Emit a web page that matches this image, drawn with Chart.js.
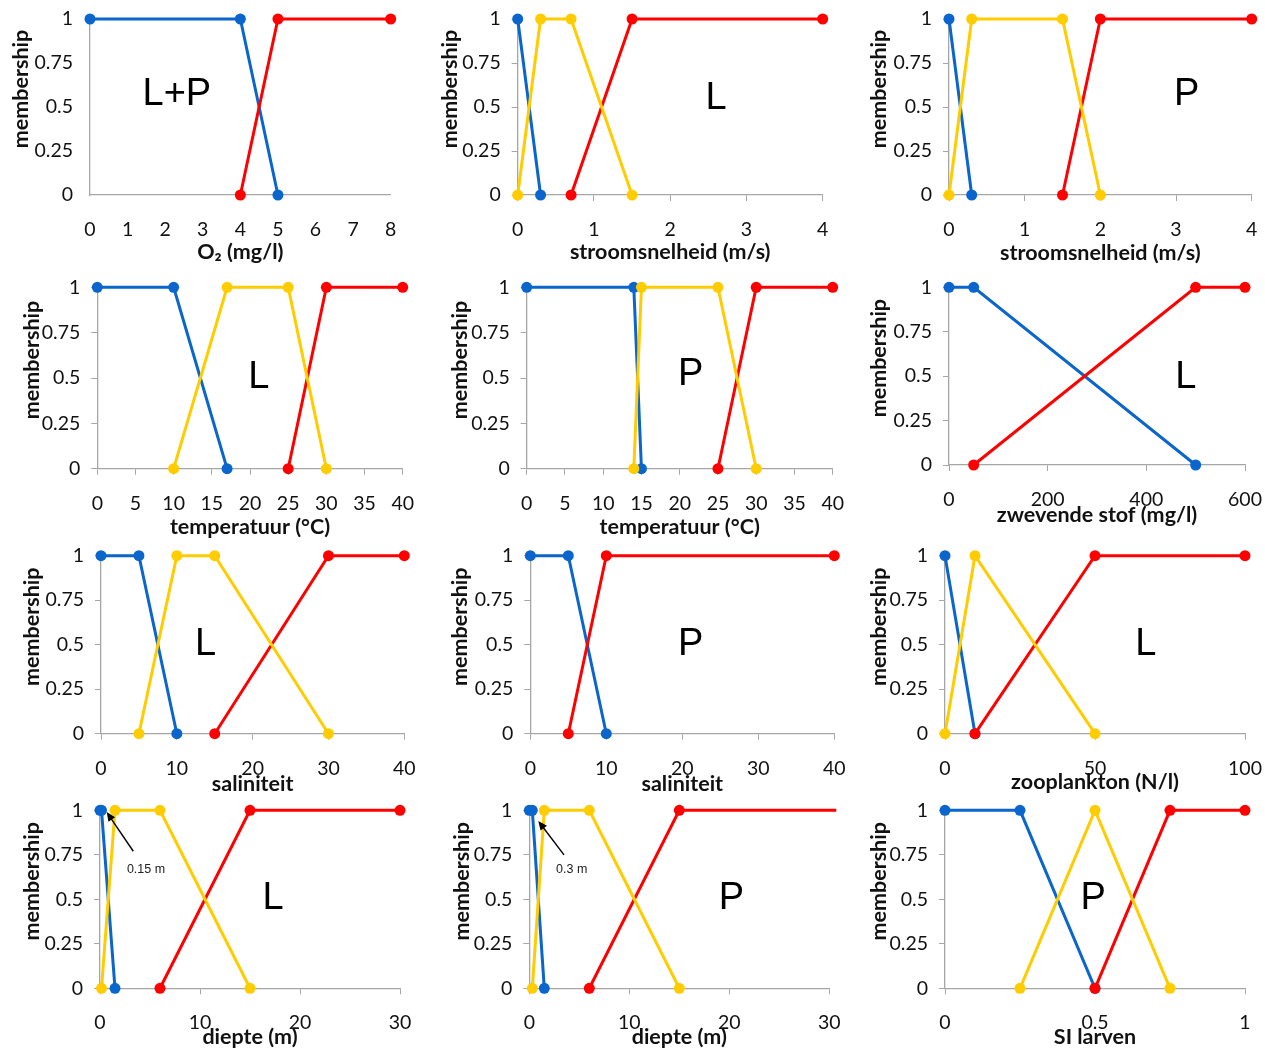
<!DOCTYPE html>
<html><head><meta charset="utf-8">
<script src="https://cdn.jsdelivr.net/npm/chart.js@4.4.1/dist/chart.umd.min.js"></script>
<style>
html,body{margin:0;padding:0;background:#fff;width:1265px;height:1050px;overflow:hidden;position:relative}
canvas{position:absolute}
</style></head><body>
<script>
// ---------- DATA ----------
const yTicks = [0, 0.25, 0.5, 0.75, 1];
const yTickLabels = ['0', '0.25', '0.5', '0.75', '1'];

// 1  O2 (L+P)
const o2Low  = [[0,1],[4,1],[5,0]];
const o2High = [[4,0],[5,1],[8,1]];
const o2Ticks = [0,1,2,3,4,5,6,7,8];

// 2  stroomsnelheid (L)
const flowLLow  = [[0,1],[0.3,0]];
const flowLMid  = [[0,0],[0.3,1],[0.7,1],[1.5,0]];
const flowLHigh = [[0.7,0],[1.5,1],[4,1]];
const flowTicks = [0,1,2,3,4];

// 3  stroomsnelheid (P)
const flowPLow  = [[0,1],[0.3,0]];
const flowPMid  = [[0,0],[0.3,1],[1.5,1],[2,0]];
const flowPHigh = [[1.5,0],[2,1],[4,1]];

// 4  temperatuur (L)
const tempLLow  = [[0,1],[10,1],[17,0]];
const tempLMid  = [[10,0],[17,1],[25,1],[30,0]];
const tempLHigh = [[25,0],[30,1],[40,1]];
const tempTicks = [0,5,10,15,20,25,30,35,40];

// 5  temperatuur (P)
const tempPLow  = [[0,1],[14,1],[15,0]];
const tempPMid  = [[14,0],[15,1],[25,1],[30,0]];
const tempPHigh = [[25,0],[30,1],[40,1]];

// 6  zwevende stof (L)
const tssLLow  = [[0,1],[50,1],[500,0]];
const tssLHigh = [[50,0],[500,1],[600,1]];
const tssTicks = [0,200,400,600];

// 7  saliniteit (L)
const salLLow  = [[0,1],[5,1],[10,0]];
const salLMid  = [[5,0],[10,1],[15,1],[30,0]];
const salLHigh = [[15,0],[30,1],[40,1]];
const salTicks = [0,10,20,30,40];

// 8  saliniteit (P)
const salPLow  = [[0,1],[5,1],[10,0]];
const salPHigh = [[5,0],[10,1],[40,1]];

// 9  zooplankton (L)
const zooLLow  = [[0,1],[10,0]];
const zooLMid  = [[0,0],[10,1],[50,0]];
const zooLHigh = [[10,0],[50,1],[100,1]];
const zooTicks = [0,50,100];

// 10 diepte (L)
const depthLLow  = [[0,1],[0.15,1],[1.5,0]];
const depthLMid  = [[0.15,0],[1.5,1],[6,1],[15,0]];
const depthLHigh = [[6,0],[15,1],[30,1]];
const depthTicks = [0,10,20,30];

// 11 diepte (P)
const depthPLow  = [[0,1],[0.3,1],[1.5,0]];
const depthPMid  = [[0.3,0],[1.5,1],[6,1],[15,0]];
const depthPHigh = [[6,0],[15,1],[40,1]];

// 12 SI larven (P)
const siPLow  = [[0,1],[0.25,1],[0.5,0]];
const siPMid  = [[0.25,0],[0.5,1],[0.75,0]];
const siPHigh = [[0.5,0],[0.75,1],[1,1]];
const siTicks = [0,0.5,1];

// ---------- STYLE ----------
const BLUE = '#0A66CC', YELLOW = '#FFCC00', RED = '#FF0000';
const AXIS = '#A6A6A6';
const FONT = 'Lato';
const TITLE_SIZE = 21.5, TITLE_LH = 1.2;
const HALF_LH = TITLE_SIZE * TITLE_LH / 2;

const annot = {
  id: 'annot',
  afterDraw(chart, args, o) {
    const {ctx} = chart; const sx = chart.scales.x, sy = chart.scales.y;
    if (o.letter) {
      ctx.save();
      ctx.font = '38px "Liberation Sans", Arial, sans-serif';
      ctx.fillStyle = '#000'; ctx.textAlign = 'center'; ctx.textBaseline = 'middle';
      ctx.fillText(o.letter.text, sx.getPixelForValue(o.letter.x), sy.getPixelForValue(o.letter.y));
      ctx.restore();
    }
    if (o.arrow) {
      const x1 = sx.getPixelForValue(o.arrow.from[0]), y1 = sy.getPixelForValue(o.arrow.from[1]);
      const x2 = sx.getPixelForValue(o.arrow.to[0]), y2 = sy.getPixelForValue(o.arrow.to[1]);
      const a = Math.atan2(y2 - y1, x2 - x1), L = 9, Wd = 4;
      ctx.save();
      ctx.strokeStyle = '#000'; ctx.fillStyle = '#000'; ctx.lineWidth = 1.4;
      ctx.beginPath(); ctx.moveTo(x1, y1);
      ctx.lineTo(x2 - Math.cos(a) * L * 0.8, y2 - Math.sin(a) * L * 0.8); ctx.stroke();
      ctx.beginPath(); ctx.moveTo(x2, y2);
      ctx.lineTo(x2 - Math.cos(a) * L + Math.sin(a) * Wd, y2 - Math.sin(a) * L - Math.cos(a) * Wd);
      ctx.lineTo(x2 - Math.cos(a) * L - Math.sin(a) * Wd, y2 - Math.sin(a) * L + Math.cos(a) * Wd);
      ctx.closePath(); ctx.fill();
      ctx.restore();
    }
    if (o.note) {
      ctx.save();
      ctx.font = '12.5px "Liberation Sans", Arial, sans-serif';
      ctx.fillStyle = '#222'; ctx.textAlign = 'center'; ctx.textBaseline = 'middle';
      ctx.fillText(o.note.text, sx.getPixelForValue(o.note.x), sy.getPixelForValue(o.note.y));
      ctx.restore();
    }
  }
};

// shift y-axis title upward (as in reference)
const yTitleShift = {
  id: 'yTitleShift',
  beforeDraw(chart, args, o) {
    const s = chart.scales.y;
    if (s && !s.__patched) {
      const orig = s.drawTitle;
      s.drawTitle = function () {
        const t = this.top;
        this.top = t - 2 * (o.shift || 0);
        try { orig.call(this); } finally { this.top = t; }
      };
      s.__patched = true;
    }
  }
};

function pts(arr) { return arr.map(p => ({x: p[0], y: p[1]})); }

function build(s) {
  const padTopWanted = 14, padRightWanted = 22;
  const left = Math.round(s.yTitleX - HALF_LH);
  const top = Math.round(s.yT - padTopWanted);
  const yAxisW = s.x0 - left;
  const xAxisH = s.xTitleY + HALF_LH - s.yB;
  const W = Math.ceil(s.x1 - left + padRightWanted);
  const H = Math.ceil(s.yB - top + xAxisH + 2);
  const padTop = s.yT - top;
  const padRight = W - (s.x1 - left);
  const padBottom = H - (s.yB - top + xAxisH);

  const cv = document.createElement('canvas');
  cv.width = W; cv.height = H;
  cv.style.left = left + 'px'; cv.style.top = top + 'px';
  cv.style.width = W + 'px'; cv.style.height = H + 'px';
  document.body.appendChild(cv);

  const tl = s.noTicks ? 0 : 6;
  const datasets = s.series.map(se => ({
    data: pts(se.data),
    borderColor: se.color, backgroundColor: se.color,
    pointBackgroundColor: se.color, pointBorderColor: se.color,
    pointBorderWidth: 0,
    pointRadius: se.radius || 5.5, pointHoverRadius: 5.5,
    borderWidth: 3, showLine: true, tension: 0,
    clip: se.clip !== undefined ? se.clip : false
  }));

  new Chart(cv, {
    type: 'scatter',
    data: {datasets},
    plugins: [annot, yTitleShift],
    options: {
      responsive: false, animation: false, devicePixelRatio: 1,
      layout: {padding: {left: 0, top: padTop, right: padRight, bottom: padBottom}},
      plugins: {
        legend: {display: false}, tooltip: {enabled: false},
        annot: {letter: s.letter, arrow: s.arrow, note: s.note},
        yTitleShift: {shift: 18}
      },
      scales: {
        x: {
          type: 'linear', min: s.xMin, max: s.xMax,
          afterBuildTicks: sc => { sc.ticks = s.xTicks.map(v => ({value: v})); },
          afterFit: sc => { sc.height = xAxisH; sc.paddingLeft = sc.paddingRight = sc.paddingTop = sc.paddingBottom = 0; },
          grid: {display: true, drawOnChartArea: false, drawTicks: !s.noTicks, tickLength: 6, color: AXIS, lineWidth: 1},
          border: {display: true, color: AXIS, width: 1.3},
          ticks: {autoSkip: false, maxRotation: 0, padding: 23 - tl, color: '#111',
                  font: {family: FONT, size: 19.5}, callback: v => String(v)},
          title: {display: true, text: s.xTitle, color: '#111', padding: 0,
                  font: {family: FONT, size: TITLE_SIZE, weight: 'bold', lineHeight: TITLE_LH}}
        },
        y: {
          type: 'linear', min: 0, max: 1,
          afterBuildTicks: sc => { sc.ticks = yTicks.map(v => ({value: v})); },
          afterFit: sc => { sc.width = yAxisW; sc.paddingLeft = sc.paddingRight = sc.paddingTop = sc.paddingBottom = 0; },
          grid: {display: true, drawOnChartArea: false, drawTicks: !s.noTicks, tickLength: 6, color: AXIS, lineWidth: 1},
          border: {display: true, color: AXIS, width: 1.3},
          ticks: {autoSkip: false, padding: 17 - tl, color: '#111',
                  font: {family: FONT, size: 19.5},
                  callback: v => yTickLabels[yTicks.indexOf(v)]},
          title: {display: true, text: 'membership', color: '#111', padding: 0,
                  font: {family: FONT, size: TITLE_SIZE, weight: 'bold', lineHeight: TITLE_LH}}
        }
      }
    }
  });
}

const specs = [
  {x0: 90, x1: 390.7, yT: 19, yB: 195, yTitleX: 21, xTitleY: 252, noTicks: true,
   xMin: 0, xMax: 8, xTicks: o2Ticks, xTitle: 'O₂ (mg/l)',
   series: [{data: o2High, color: RED}, {data: o2Low, color: BLUE}],
   letter: {text: 'L+P', x: 2.31, y: 0.57}},
  {x0: 517.7, x1: 822.7, yT: 19, yB: 195, yTitleX: 450, xTitleY: 252,
   xMin: 0, xMax: 4, xTicks: flowTicks, xTitle: 'stroomsnelheid (m/s)',
   series: [{data: flowLMid, color: YELLOW}, {data: flowLHigh, color: RED}, {data: flowLLow, color: BLUE}],
   letter: {text: 'L', x: 2.6, y: 0.55}},
  {x0: 949, x1: 1251.7, yT: 19, yB: 195, yTitleX: 879, xTitleY: 253,
   xMin: 0, xMax: 4, xTicks: flowTicks, xTitle: 'stroomsnelheid (m/s)',
   series: [{data: flowPMid, color: YELLOW}, {data: flowPHigh, color: RED}, {data: flowPLow, color: BLUE}],
   letter: {text: 'P', x: 3.14, y: 0.57}},
  {x0: 97.3, x1: 402.7, yT: 287.3, yB: 468.7, yTitleX: 31.7, xTitleY: 527,
   xMin: 0, xMax: 40, xTicks: tempTicks, xTitle: 'temperatuur (°C)',
   series: [{data: tempLMid, color: YELLOW}, {data: tempLHigh, color: RED}, {data: tempLLow, color: BLUE}],
   letter: {text: 'L', x: 21.15, y: 0.5}},
  {x0: 526.7, x1: 832.7, yT: 287.3, yB: 468.7, yTitleX: 460, xTitleY: 527,
   xMin: 0, xMax: 40, xTicks: tempTicks, xTitle: 'temperatuur (°C)',
   series: [{data: tempPMid, color: YELLOW}, {data: tempPHigh, color: RED}, {data: tempPLow, color: BLUE}],
   letter: {text: 'P', x: 21.45, y: 0.52}},
  {x0: 949, x1: 1245, yT: 287.3, yB: 465, yTitleX: 879, xTitleY: 515,
   xMin: 0, xMax: 600, xTicks: tssTicks, xTitle: 'zwevende stof (mg/l)',
   series: [{data: tssLHigh, color: RED}, {data: tssLLow, color: BLUE}],
   letter: {text: 'L', x: 480, y: 0.49}},
  {x0: 101, x1: 404.3, yT: 555.7, yB: 733.7, yTitleX: 31.7, xTitleY: 784,
   xMin: 0, xMax: 40, xTicks: salTicks, xTitle: 'saliniteit',
   series: [{data: salLMid, color: YELLOW}, {data: salLHigh, color: RED}, {data: salLLow, color: BLUE}],
   letter: {text: 'L', x: 13.8, y: 0.5}},
  {x0: 530.3, x1: 834.3, yT: 555.7, yB: 733.7, yTitleX: 460, xTitleY: 784,
   xMin: 0, xMax: 40, xTicks: salTicks, xTitle: 'saliniteit',
   series: [{data: salPHigh, color: RED}, {data: salPLow, color: BLUE}],
   letter: {text: 'P', x: 21.1, y: 0.5}},
  {x0: 945, x1: 1245, yT: 555.7, yB: 733.7, yTitleX: 879, xTitleY: 782,
   xMin: 0, xMax: 100, xTicks: zooTicks, xTitle: 'zooplankton (N/l)',
   series: [{data: zooLMid, color: YELLOW}, {data: zooLHigh, color: RED}, {data: zooLLow, color: BLUE}],
   letter: {text: 'L', x: 66.9, y: 0.5}},
  {x0: 100, x1: 400, yT: 810.3, yB: 988.3, yTitleX: 31.7, xTitleY: 1037,
   xMin: 0, xMax: 30, xTicks: depthTicks, xTitle: 'diepte (m)',
   series: [{data: depthLMid, color: YELLOW}, {data: depthLHigh, color: RED}, {data: depthLLow, color: BLUE}],
   letter: {text: 'L', x: 17.3, y: 0.506},
   arrow: {from: [3.33, 0.77], to: [0.67, 0.99]}, note: {text: '0.15 m', x: 4.6, y: 0.665}},
  {x0: 529.3, x1: 829.3, yT: 810.3, yB: 988.3, yTitleX: 461.7, xTitleY: 1037,
   xMin: 0, xMax: 30, xTicks: depthTicks, xTitle: 'diepte (m)',
   series: [{data: depthPMid, color: YELLOW},
            {data: depthPHigh, color: RED, radius: [5.5, 5.5, 0], clip: {left: false, top: false, right: 7, bottom: false}},
            {data: depthPLow, color: BLUE}],
   letter: {text: 'P', x: 20.2, y: 0.506},
   arrow: {from: [3.47, 0.75], to: [0.9, 0.94]}, note: {text: '0.3 m', x: 4.24, y: 0.665}},
  {x0: 945, x1: 1245, yT: 810.3, yB: 988.3, yTitleX: 879, xTitleY: 1037,
   xMin: 0, xMax: 1, xTicks: siTicks, xTitle: 'SI larven',
   series: [{data: siPMid, color: YELLOW}, {data: siPHigh, color: RED}, {data: siPLow, color: BLUE}],
   letter: {text: 'P', x: 0.494, y: 0.506}}
];

specs.forEach(build);
</script>
</body></html>
